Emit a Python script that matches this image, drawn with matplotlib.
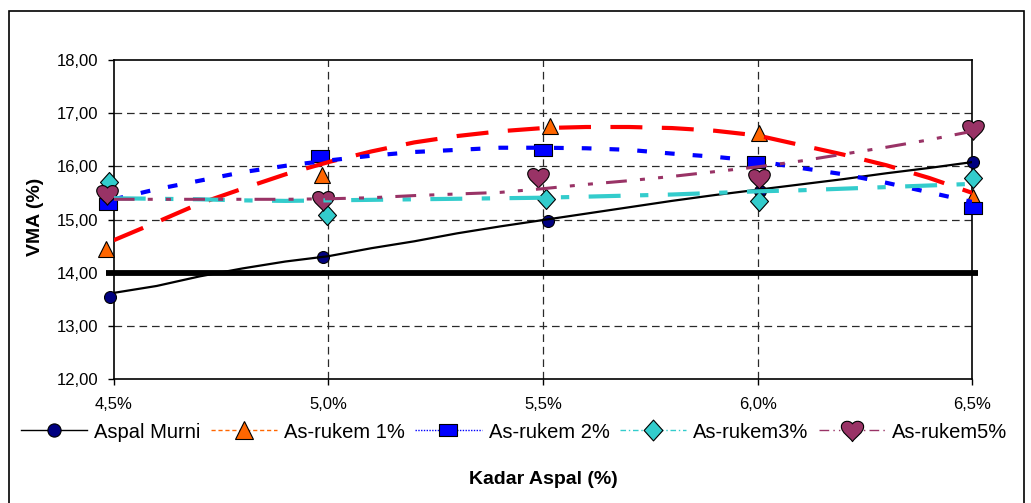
import numpy as np
import matplotlib
matplotlib.use("Agg")
import matplotlib.pyplot as plt
from matplotlib.path import Path
from matplotlib.lines import Line2D
from matplotlib.patches import Rectangle

plt.rcParams['font.family'] = ['Liberation Sans', 'DejaVu Sans']
plt.rcParams['lines.scale_dashes'] = False

# measured points (kadar aspal vs VMA)
murni_x = [4.492, 4.987, 5.511, 6.005, 6.502]
murni_y = [13.54, 14.29, 14.98, 15.54, 16.09]
r1_x = [4.483, 4.985, 5.517, 6.004, 6.502]
r1_y = [14.45, 15.83, 16.76, 16.62, 15.43]
r2_x = [4.486, 4.981, 5.501, 5.996, 6.502]
r2_y = [15.29, 16.20, 16.31, 16.09, 15.22]
r3_x = [4.488, 4.997, 5.507, 6.004, 6.502]
r3_y = [15.71, 15.09, 15.39, 15.34, 15.79]
r5_x = [4.485, 4.987, 5.489, 6.004, 6.502]
r5_y = [15.48, 15.37, 15.80, 15.79, 16.70]

# trend curves
curve_x = [4.5, 4.6, 4.7, 4.8, 4.9, 5.0, 5.1, 5.2, 5.3, 5.4, 5.5,
           5.6, 5.7, 5.8, 5.9, 6.0, 6.1, 6.2, 6.3, 6.4, 6.5]
murni_fit = [13.62, 13.75, 13.93, 14.08, 14.21, 14.31, 14.46, 14.59, 14.74, 14.87, 14.99,
             15.11, 15.23, 15.35, 15.46, 15.56, 15.66, 15.76, 15.87, 15.97, 16.08]
r1_fit = [14.61, 14.95, 15.30, 15.58, 15.85, 16.08, 16.28, 16.45, 16.57, 16.66, 16.72,
          16.74, 16.74, 16.72, 16.67, 16.58, 16.40, 16.22, 16.02, 15.78, 15.50]
r2_fit = [15.38, 15.57, 15.73, 15.89, 16.01, 16.11, 16.20, 16.27, 16.31, 16.35, 16.35,
          16.34, 16.31, 16.24, 16.18, 16.10, 15.97, 15.85, 15.69, 15.51, 15.33]
r3_fit = [15.40, 15.39, 15.38, 15.36, 15.35, 15.36, 15.37, 15.38, 15.39, 15.40, 15.41,
          15.43, 15.45, 15.47, 15.50, 15.53, 15.55, 15.58, 15.61, 15.64, 15.67]
r5_fit = [15.38, 15.38, 15.38, 15.38, 15.38, 15.39, 15.41, 15.45, 15.48, 15.51, 15.58,
          15.66, 15.73, 15.81, 15.90, 15.99, 16.10, 16.23, 16.36, 16.50, 16.66]

# spesifikasi minimum VMA
spec_x = [4.483, 6.513]
spec_y = [14.0, 14.0]

x_ticks = [4.5, 5.0, 5.5, 6.0, 6.5]
x_labels = ['4,5%', '5,0%', '5,5%', '6,0%', '6,5%']
y_ticks = [12, 13, 14, 15, 16, 17, 18]
y_labels = ['12,00', '13,00', '14,00', '15,00', '16,00', '17,00', '18,00']

names = ['Aspal Murni', 'As-rukem 1%', 'As-rukem 2%', 'As-rukem3%', 'As-rukem5%']

# custom markers
rect_m = Path([(-1, -0.62), (1, -0.62), (1, 0.62), (-1, 0.62), (-1, -0.62)],
              [Path.MOVETO, Path.LINETO, Path.LINETO, Path.LINETO, Path.CLOSEPOLY])
diam_m = Path([(0, 1), (0.9, 0), (0, -1), (-0.9, 0), (0, 1)],
              [Path.MOVETO, Path.LINETO, Path.LINETO, Path.LINETO, Path.CLOSEPOLY])
heart_m = Path([(0, -1),
                (-0.3, -0.55), (-1, -0.2), (-1, 0.35),
                (-1, 0.85), (-0.3, 1.0), (0, 0.6),
                (0.3, 1.0), (1, 0.85), (1, 0.35),
                (1, -0.2), (0.3, -0.55), (0, -1),
                (0, -1)],
               [Path.MOVETO] + [Path.CURVE4] * 12 + [Path.CLOSEPOLY])

fig = plt.figure(figsize=(10.31, 5.03), dpi=100)
ax = fig.add_axes([0.1103, 0.2465, 0.8328, 0.6342])

# grid
for yv in [13, 15, 16, 17]:
    ax.axhline(yv, color='#2a2a2a', lw=0.9, dashes=(5.5, 3.5), zorder=1)
for xv in [5.0, 5.5, 6.0]:
    ax.axvline(xv, color='#2a2a2a', lw=0.9, dashes=(5.5, 3.5), zorder=1)

ax.plot(spec_x, spec_y, color='black', lw=4.2, solid_capstyle='butt', zorder=2, clip_on=False)

# markers
ax.plot(murni_x, murni_y, ls='none', marker='o', ms=8.6, mfc='#000080', mec='black', mew=0.8, zorder=3, clip_on=False)
ax.plot(r1_x, r1_y, ls='none', marker='^', ms=11.5, mfc='#FF6600', mec='black', mew=0.8, zorder=3, clip_on=False)
ax.plot(r2_x, r2_y, ls='none', marker=rect_m, ms=13, mfc='#0000FF', mec='black', mew=0.8, zorder=3, clip_on=False)
ax.plot(r3_x, r3_y, ls='none', marker=diam_m, ms=14.4, mfc='#33CCCC', mec='black', mew=0.8, zorder=3, clip_on=False)
ax.plot(r5_x, r5_y, ls='none', marker=heart_m, ms=15.5, mfc='#993366', mec='black', mew=0.8, zorder=3, clip_on=False)

# trend curves
ax.plot(curve_x, murni_fit, color='black', lw=1.6, zorder=4)
ax.plot(curve_x, r1_fit, color='#FF0000', lw=3.0, dashes=(23, 14), dash_capstyle='butt', zorder=4)
ax.plot(curve_x, r2_fit, color='#0000FF', lw=3.0, dashes=(7, 13), dash_capstyle='butt', zorder=4)
ax.plot(curve_x, r3_fit, color='#33CCCC', lw=3.0, dashes=(23, 14, 6, 14), dash_capstyle='butt', zorder=4)
ax.plot(curve_x, r5_fit, color='#993366', lw=2.2, dashes=(15, 9.5, 3.6, 9.5, 3.6, 9.5), dash_capstyle='butt', zorder=4)

ax.set_xlim(4.5, 6.5)
ax.set_ylim(12, 18)
ax.set_xticks(x_ticks)
ax.set_xticklabels(x_labels)
ax.set_yticks(y_ticks)
ax.set_yticklabels(y_labels)
ax.tick_params(axis='x', direction='out', length=4, width=1, pad=9, labelsize=12)
ax.tick_params(axis='y', direction='out', length=4, width=1, pad=7, labelsize=12)
for s in ax.spines.values():
    s.set_linewidth(1.2)
    s.set_color('black')

fig.text(36 / 1031, 1 - 217 / 503, 'VMA (%)', rotation=90, ha='center', va='center',
         fontsize=14, fontweight='bold')
fig.text(543 / 1031, 1 - 479 / 503, 'Kadar Aspal (%)', ha='center', va='center',
         fontsize=14, fontweight='bold')

# legend
handles = [
    Line2D([], [], color='black', lw=1, marker='o', ms=9.5, mfc='#000080', mec='black', mew=0.8),
    Line2D([], [], color='#FF6600', lw=1, dashes=(3, 2), marker='^', ms=13, mfc='#FF6600', mec='black', mew=0.8),
    Line2D([], [], color='#0000FF', lw=1, dashes=(1, 1), marker=rect_m, ms=13.5, mfc='#0000FF', mec='black', mew=0.8),
    Line2D([], [], color='#33CCCC', lw=1, dashes=(4, 2, 1, 2), marker=diam_m, ms=15, mfc='#33CCCC', mec='black', mew=0.8),
    Line2D([], [], color='#993366', lw=1, dashes=(7, 3, 1, 3, 1, 3), marker=heart_m, ms=16, mfc='#993366', mec='black', mew=0.8),
]
fig.legend(handles, names, loc='center', bbox_to_anchor=(514 / 1031, 1 - 432 / 503),
           ncol=5, frameon=False, fontsize=14.5, handlelength=3.3, handletextpad=0.35,
           columnspacing=0.5, borderaxespad=0, borderpad=0)

# outer chart frame
fig.patches.append(Rectangle((9 / 1031, -0.05), (1024 - 9) / 1031, 1.05 - 11 / 503,
                             transform=fig.transFigure, fill=False, lw=1.2, ec='black'))

fig.savefig('out.png', dpi=100)
